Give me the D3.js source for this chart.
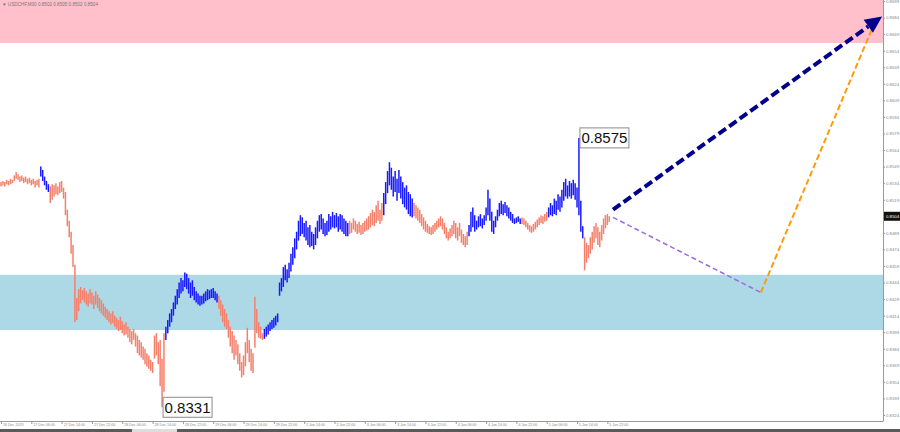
<!DOCTYPE html>
<html><head><meta charset="utf-8">
<script src="https://cdn.jsdelivr.net/npm/d3@7"></script>
<style>body{margin:0;background:#fff}svg{display:block}</style>
</head><body>
<svg id="c" width="900" height="432"></svg>
<script>
// prices in pips (value / 10000)
const highs = [
8535,8536,8535,8537,8536,8538,8537, 8541,8544,8542,
8540,8541,8539,8540,8538,8539,8537,8538,8536,8537, 8538,
8549,8546,8540,8536,8533,
8531,8533,8532,8534,8531,8535,8536,8530,
8526,8510,8500,8490,8478, 8460,
8430,8438,8440,8437,8439,8436,8434,8438,8435,8432,8436,8433,8430,
8428,8425,8422,8420,8418,8416,8418,8414,8412,8410,8413,8409,8406,8408,8404,8402,8400,8402,
8398,8396,8392,8390,8386,8384,8380, 8378,8374,8372, 8396,8398,8390, 8392,8375,8398,
8404,8410,8416,8420,8426,8432,8438,8444,8448,8446,8453,
8452,8448,8444,8446,8440,8436,8434,8432,
8432,8434,8436,8438,8437,8438,8439,8436,8434,
8432,8428,8424,8420,8416, 8410,8404,8400,8396,8392,8388,
8380,8372,8378,8390, 8403, 8392,8384,8380, 8431, 8420,8408,8404,8398,
8402,8404,8406,8408,8410,8412,8414,8416,
8444,8448,8458,8460,8456,8462,8470,8476,8484,8490,8500,8505,
8503,8498,8500,8494,8496,8490,8488,8494,8500,8505,8506,8502,8498,8500,8506,8504,8508,8505,8507,8504,8506,
8505,8502,8500,8498,
8500,8498,8502,8500,8497,8499,8496,8498,8500,8502,
8504,8507,8510,8508,8514,8518,8510,8516,
8525,8535,8545,8553,8548,8540,8545,8538,8546,8540,8535,8530,8532,8526,8524,8520,
8516,8514,8512,8510,8506,8503,8500,8497,8495,8494,8496,
8498,8500,8502,8504,8502,8498,8494,8490,8493,8496,8500,8498,8494,8498,8492,8488,8486,8490,
8496,8508,8512,8505,8500,8504,8506,8502,8505,8512,8528,8520,8508,8500,8504,8510,8516,8518,8515,8517,8514,8512,8508,8506,8502,8503,8504,8502,
8503,8502,8500,8498,8496,8495,8497,8499,8501,8503,8505,8504,8506,8508,
8512,8516,8514,8520,8518,8524,8522,8528,8535,8538,8532,8536,8534,8537,8534,8530,
8575, 8518,8495, 8485,8480,
8478,8485,8490,8495,8498,8494,8490,8496,8502,8505,8506,8504
];
const lows = [
8531,8532,8531,8533,8532,8533,8534, 8536,8538,8537,
8535,8536,8534,8535,8533,8534,8532,8533,8530,8532, 8530,
8540,8536,8532,8528,8526,
8516,8519,8522,8524,8523,8525,8526,8520,
8505,8495,8485,8470,8458, 8408,
8410,8418,8425,8428,8426,8424,8422,8425,8424,8420,8424,8421,8418,
8416,8414,8412,8410,8408,8406,8407,8404,8402,8400,8401,8398,8396,8397,8394,8390,8388,8392,
8386,8380,8378,8376,8374,8370,8368, 8366,8364,8362, 8375,8378,8370, 8350,8331,8345,
8392,8398,8404,8408,8414,8420,8424,8430,8434,8436,8440,
8438,8434,8430,8432,8428,8426,8424,8423,
8424,8425,8427,8428,8429,8430,8430,8428,8426,
8420,8414,8408,8404,8402, 8394,8386,8380,8374,8378,8370,
8364,8358,8360,8368, 8380, 8372,8364,8362, 8385, 8398,8394,8393,8392,
8393,8395,8397,8400,8402,8403,8405,8408,
8432,8436,8440,8446,8444,8448,8454,8460,8466,8474,8482,8486,
8488,8485,8482,8478,8476,8477,8474,8478,8484,8490,8492,8488,8486,8487,8490,8492,8494,8493,8494,8490,8492,
8490,8488,8486,8486,
8488,8489,8492,8490,8488,8489,8487,8488,8490,8491,
8492,8494,8496,8495,8498,8500,8497,8500,
8505,8515,8525,8532,8528,8522,8526,8518,8525,8520,8515,8512,8510,8506,8504,8503,
8504,8502,8500,8498,8495,8492,8490,8489,8488,8487,8488,
8490,8492,8494,8495,8492,8488,8484,8482,8484,8486,8488,8484,8482,8486,8480,8478,8476,8478,
8486,8490,8494,8490,8492,8494,8495,8493,8496,8500,8505,8500,8490,8488,8494,8500,8504,8506,8505,8507,8504,8502,8500,8498,8497,8498,8499,8497,
8497,8496,8494,8492,8490,8489,8490,8492,8494,8496,8498,8497,8499,8500,
8503,8505,8504,8506,8505,8510,8508,8512,8518,8522,8520,8522,8520,8523,8519,8512,
8505, 8490,8484, 8455,8462,
8466,8470,8474,8480,8484,8478,8476,8482,8488,8493,8496,8499
];
// wave segments drawn in blue (bar index ranges)
const blueWaves = [[21,25],[87,114],[139,183],[202,217],[247,274],[289,307]];
// target zones (pips)
const resistZone = [8661, 8705];
const supportZone = [8401, 8451];
// price ticks (pips)
const priceTicks = d3.range(8324, 8700, 15).filter(v => v !== 8504);
const currentPrice = 8504;
// time axis
const timeLabels = ["26 Dec 2023","27 Dec 06:00","27 Dec 14:00","27 Dec 22:00","28 Dec 06:00","28 Dec 14:00","28 Dec 22:00","29 Dec 06:00","29 Dec 14:00","29 Dec 22:00","2 Jan 14:00","2 Jan 22:00","3 Jan 06:00","3 Jan 14:00","3 Jan 22:00","4 Jan 06:00","4 Jan 14:00","4 Jan 22:00","5 Jan 06:00","5 Jan 14:00","5 Jan 22:00"];
const timeTickIdx = timeLabels.map((d,i) => i*16);
// forecast paths [bar index, pips]
const mainForecast = [[323, 8510],[465, 8685]];
const altPath1 = [[323, 8503],[401, 8435]];
const altPath2 = [[401, 8435],[460, 8675]];
// annotated extremes [bar index, pips, label]
const extremes = [[305, 8575, "0.8575"],[85, 8331, "0.8331"]];

const svg = d3.select("#c");
const W = 900, H = 432, plotR = 883, plotB = 421;
const FONT = "Liberation Sans, Arial, sans-serif";
const x = d3.scaleLinear().domain([0, 466]).range([1, 884]);
const y = d3.scaleLinear().domain([8324, 8699]).range([415, 1]);

svg.append("rect").attr("width", W).attr("height", H).attr("fill", "#fff");

// zones
svg.append("rect").attr("x", 0).attr("width", plotR)
  .attr("y", 0).attr("height", y(resistZone[0]))
  .attr("fill", "#ffc0cb");
svg.append("rect").attr("x", 0).attr("width", plotR)
  .attr("y", y(supportZone[1])).attr("height", y(supportZone[0]) - y(supportZone[1]))
  .attr("fill", "#add8e6");

// bars
const isBlue = i => blueWaves.some(([a,b]) => i >= a && i <= b);
const bars = highs.map((h,i) => ({i, h, l: lows[i]}));
svg.append("g").selectAll("line").data(bars).join("line")
  .attr("x1", d => x(d.i)).attr("x2", d => x(d.i))
  .attr("y1", d => y(d.h)).attr("y2", d => y(d.l))
  .attr("stroke", d => isBlue(d.i) ? "#1a1aff" : "#f4806c")
  .attr("stroke-width", 1.5);

// forecast lines
const pt = p => [x(p[0]), y(p[1])];
const line = d3.line();
svg.append("path").attr("d", line(altPath1.map(pt)))
  .attr("stroke", "#9b6ee0").attr("stroke-width", 1.5).attr("stroke-dasharray", "5,3").attr("fill", "none");
svg.append("path").attr("d", line(altPath2.map(pt)))
  .attr("stroke", "#ff9a0a").attr("stroke-width", 2).attr("stroke-dasharray", "6,3").attr("fill", "none");
const [m0, m1] = mainForecast.map(pt);
const ang = Math.atan2(m1[1]-m0[1], m1[0]-m0[0]);
const aLen = 17, aW = 8;
const base = [m1[0] - aLen*Math.cos(ang), m1[1] - aLen*Math.sin(ang)];
svg.append("path").attr("d", line([m0, base]))
  .attr("stroke", "#00008b").attr("stroke-width", 4).attr("stroke-dasharray", "9,4").attr("fill", "none");
svg.append("path")
  .attr("d", line([m1,
    [base[0] + aW*Math.sin(ang), base[1] - aW*Math.cos(ang)],
    [base[0] - aW*Math.sin(ang), base[1] + aW*Math.cos(ang)]]) + "Z")
  .attr("fill", "#00008b");

// extreme labels
extremes.forEach(([i, p, t]) => {
  const g = svg.append("g").attr("transform", `translate(${x(i)+1},${y(p)})`);
  g.append("rect").attr("x", 0).attr("y", -10).attr("width", 49).attr("height", 20)
    .attr("fill", "#fff").attr("stroke", "#8a8a8a").attr("stroke-width", 1);
  g.append("text").attr("x", 24.5).attr("y", 5.5).attr("text-anchor", "middle")
    .attr("font-family", FONT).attr("font-size", 15).attr("fill", "#111").text(t);
});

// axes
const ay = svg.append("g").attr("transform", `translate(${plotR},0)`)
  .call(d3.axisRight(y).tickValues(priceTicks).tickSize(2).tickFormat(d => (d/10000).toFixed(4)));
ay.select(".domain").remove();
ay.selectAll("line").attr("stroke", "#999");
ay.selectAll("text").attr("x", 3).attr("font-size", 4.3).attr("fill", "#888").attr("font-family", FONT);
svg.append("line").attr("x1", plotR+0.5).attr("x2", plotR+0.5).attr("y1", 0).attr("y2", plotB).attr("stroke", "#999");

const ax = svg.append("g").attr("transform", `translate(0,${plotB})`)
  .call(d3.axisBottom(x).tickValues(timeTickIdx).tickSize(3).tickFormat((d,i) => timeLabels[i]));
ax.select(".domain").remove();
ax.selectAll("line").attr("stroke", "#999");
ax.selectAll("text").attr("text-anchor", "start").attr("x", 1.5).attr("y", 2.5)
  .attr("font-size", 3.6).attr("fill", "#888").attr("font-family", FONT);
svg.append("line").attr("x1", 0).attr("x2", plotR+0.5).attr("y1", plotB+0.5).attr("y2", plotB+0.5).attr("stroke", "#999");

// current price marker
svg.append("rect").attr("x", plotR+1).attr("y", y(currentPrice)-4.5).attr("width", W-plotR-1).attr("height", 9).attr("fill", "#111");
svg.append("text").attr("x", plotR+3).attr("y", y(currentPrice)+1.6).attr("font-size", 4.3).attr("fill", "#fff")
  .attr("font-family", FONT).text((currentPrice/10000).toFixed(4));

// title
svg.append("text").attr("x", 2).attr("y", 6).attr("font-size", 4.6).attr("fill", "#777")
  .attr("font-family", FONT)
  .text("▼ USDCHF,M30  0.8502 0.8505 0.8502 0.8504");

// bottom scrollbar strip
svg.append("rect").attr("x", 0).attr("y", 429).attr("width", W).attr("height", 3).attr("fill", "#5a5a5a");
svg.append("rect").attr("x", 132).attr("y", 429).attr("width", 45).attr("height", 3).attr("fill", "#ddd");
</script>
</body></html>
